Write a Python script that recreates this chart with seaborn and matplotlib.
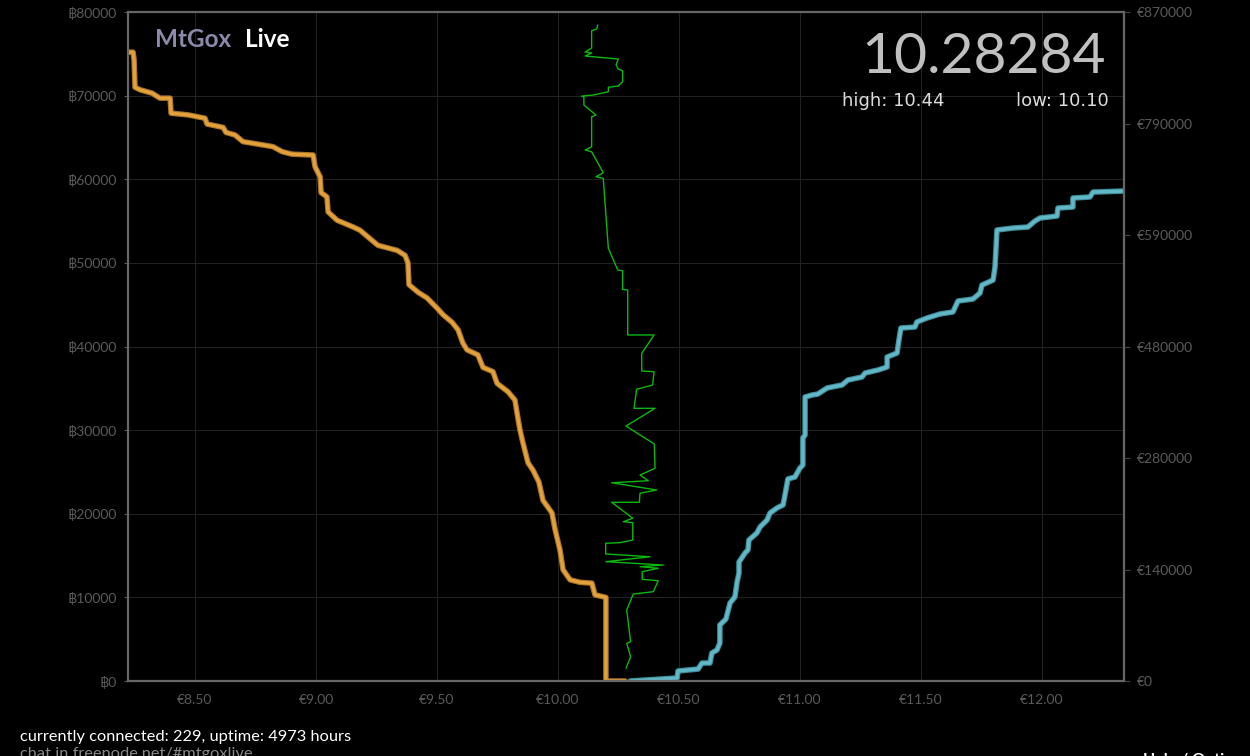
import numpy as np
import pandas as pd
import seaborn as sns
import matplotlib.pyplot as plt
import matplotlib.patheffects as pe

# bid depth (price in EUR, cumulative BTC)
bid_price = [8.223, 8.244, 8.248, 8.252, 8.273, 8.322, 8.355, 8.397, 8.401, 8.471, 8.541, 8.550,
             8.616, 8.628, 8.665, 8.698, 8.781, 8.822, 8.860, 8.901, 8.988, 8.996, 9.017, 9.021,
             9.045, 9.050, 9.087, 9.153, 9.182, 9.231, 9.256, 9.335, 9.368, 9.380, 9.384, 9.421,
             9.459, 9.500, 9.525, 9.562, 9.587, 9.607, 9.624, 9.669, 9.690, 9.731, 9.748, 9.793,
             9.822, 9.831, 9.843, 9.855, 9.876, 9.897, 9.921, 9.938, 9.975, 9.988, 10.008, 10.021,
             10.050, 10.091, 10.140, 10.153, 10.198, 10.198, 10.277]
bid_btc = [75200, 75200, 74300, 71000, 70700, 70300, 69700, 69700, 67900, 67700, 67300, 66600,
           66200, 65600, 65300, 64500, 64100, 63900, 63300, 63000, 62900, 61500, 60300, 58400,
           57900, 56100, 55100, 54300, 53900, 52700, 52100, 51500, 50900, 50000, 47400, 46500,
           45800, 44600, 43800, 42900, 42000, 40400, 39600, 39000, 37500, 37000, 35600, 34600,
           33600, 32000, 30000, 28500, 26100, 25200, 23800, 21600, 20100, 18100, 15700, 13300,
           12100, 11800, 11700, 10300, 10000, 0, 0]

# ask depth
ask_price = [10.298, 10.492, 10.496, 10.579, 10.595, 10.628, 10.636, 10.657, 10.669, 10.669,
             10.694, 10.711, 10.731, 10.740, 10.748, 10.748, 10.773, 10.785, 10.789, 10.822,
             10.835, 10.864, 10.876, 10.905, 10.930, 10.938, 10.950, 10.979, 11.000, 11.012,
             11.012, 11.021, 11.021, 11.050, 11.074, 11.112, 11.174, 11.198, 11.256, 11.269,
             11.322, 11.360, 11.360, 11.401, 11.409, 11.417, 11.475, 11.483, 11.525, 11.579,
             11.632, 11.653, 11.715, 11.744, 11.752, 11.798, 11.806, 11.814, 11.880, 11.942,
             11.971, 11.992, 12.062, 12.066, 12.128, 12.128, 12.198, 12.211, 12.335]
ask_btc = [0, 360, 1200, 1430, 2150, 2150, 3350, 3710, 4540, 6700,
           7410, 9330, 10050, 11840, 12920, 14230, 15310, 15670, 16860, 17700,
           18420, 19250, 20090, 20690, 21050, 22240, 24160, 24390, 25470, 25830,
           29060, 29420, 33960, 34200, 34320, 35040, 35400, 35990, 36350, 36830,
           37190, 37550, 38740, 39220, 40780, 42210, 42330, 42930, 43410, 43890,
           44130, 45440, 45680, 46400, 47350, 47950, 49510, 53930, 54170, 54290,
           55010, 55370, 55600, 56560, 56680, 57760, 57880, 58470, 58590]

# recent trade prices (drawn top = oldest, bottom = newest)
trade_price = [10.164, 10.160, 10.139, 10.139, 10.112, 10.139, 10.112, 10.249, 10.240, 10.249,
               10.267, 10.267, 10.249, 10.208, 10.208, 10.146, 10.098, 10.107, 10.107, 10.157,
               10.139, 10.139, 10.112, 10.139, 10.187, 10.157, 10.187, 10.208, 10.247, 10.267,
               10.267, 10.288, 10.288, 10.397, 10.346, 10.346, 10.397, 10.391, 10.325, 10.314,
               10.401, 10.281, 10.398, 10.401, 10.339, 10.373, 10.222, 10.408, 10.339, 10.336,
               10.222, 10.309, 10.270, 10.309, 10.309, 10.256, 10.197, 10.197, 10.380, 10.198,
               10.435, 10.339, 10.414, 10.348, 10.348, 10.414, 10.394, 10.311, 10.284, 10.300,
               10.284, 10.300, 10.281]
trade_pos = [78440, 77970, 77760, 75690, 75220, 75100, 74740, 74380, 73660, 73180,
             72980, 71660, 71150, 71000, 70470, 70070, 69950, 69800, 68880, 67680,
             67480, 63890, 63500, 63290, 60780, 60300, 60110, 51740, 49150, 49060,
             46840, 46760, 41380, 41380, 39190, 37070, 36990, 35400, 34880, 32610,
             32610, 30490, 28340, 25440, 24630, 23950, 23710, 22840, 22450, 21370,
             21370, 19460, 19050, 18930, 16860, 16540, 16470, 15190, 14860, 14270,
             13870, 13670, 13480, 13070, 12160, 11990, 10680, 10400, 8490, 4700,
             4510, 2910, 1520]

x_ticks = [8.5, 9.0, 9.5, 10.0, 10.5, 11.0, 11.5, 12.0]
btc_ticks = [0, 10000, 20000, 30000, 40000, 50000, 60000, 70000, 80000]
eur_labels = ["€0", "€140000", "€280000", "€480000", "€590000", "€790000", "€870000"]

last_price = "10.28284"
high, low = "10.44", "10.10"

sns.set_style("dark", {"axes.facecolor": "black", "figure.facecolor": "black"})
plt.rcParams['font.family'] = ['Lato', 'DejaVu Sans']

fig = plt.figure(figsize=(12.5, 7.56), dpi=100)
ax = fig.add_axes([0.1024, 0.0992, 0.7968, 0.8849])
ax.set_facecolor("black")

bids = pd.DataFrame({"price": bid_price, "btc": bid_btc})
asks = pd.DataFrame({"price": ask_price, "btc": ask_btc})
trades = pd.DataFrame({"price": trade_price, "pos": trade_pos})

sns.lineplot(data=bids, x="price", y="btc", sort=False, estimator=None, ax=ax,
             color="#e3a13b", linewidth=2.4,
             path_effects=[pe.Stroke(linewidth=4, foreground="#a8742a"), pe.Normal()])
sns.lineplot(data=asks, x="price", y="btc", sort=False, estimator=None, ax=ax,
             color="#62b8c6", linewidth=2.4,
             path_effects=[pe.Stroke(linewidth=4, foreground="#3f8d9a"), pe.Normal()])
sns.lineplot(data=trades, x="price", y="pos", sort=False, estimator=None, ax=ax,
             color="#0cb80c", linewidth=1.0)

ax.set_xlim(8.223, 12.339)
ax.set_ylim(0, 80000)
ax.set_xticks(x_ticks)
ax.set_xticklabels([f"€{v:.2f}" for v in x_ticks])
ax.set_yticks(btc_ticks)
ax.set_yticklabels([f"฿{v}" for v in btc_ticks])
ax.set_xlabel("")
ax.set_ylabel("")
ax.grid(True, color="#222222", linewidth=0.8)
ax.tick_params(colors="#555555", labelcolor="#5a5a5a", labelsize=10, length=3, pad=5)
ax.tick_params(axis="x", length=0, pad=9)
for s in ax.spines.values():
    s.set_color("#666666")
    s.set_linewidth(1.6)
    s.set_visible(True)

ax2 = ax.twinx()
ax2.set_ylim(0, 870000)
ax2.set_yticks(np.linspace(0, 870000, len(eur_labels)))
ax2.set_yticklabels(eur_labels)
ax2.tick_params(colors="#444444", labelcolor="#5a5a5a", labelsize=10, length=4, pad=5)
ax2.grid(False)
for s in ax2.spines.values():
    s.set_visible(False)

fig.text(155 / 1250, 0.938, "MtGox", color="#8a8aaa", fontsize=17.5, fontweight="bold", va="baseline")
fig.text(245 / 1250, 0.938, "Live", color="white", fontsize=17.5, fontweight="bold", va="baseline")
fig.text(1106 / 1250, 0.903, last_price, color="#c0c0c0", fontsize=41,
         ha="right", va="baseline")
fig.text(842 / 1250, 0.860, f"high: {high}", color="#dddddd", fontsize=13,
         family="DejaVu Sans", va="baseline")
fig.text(1109 / 1250, 0.860, f"low: {low}", color="#dddddd", fontsize=13,
         family="DejaVu Sans", ha="right", va="baseline")

fig.text(20 / 1250, 0.0198, "currently connected: 229, uptime: 4973 hours", color="white",
         fontsize=11.8, va="baseline")
fig.text(20 / 1250, -0.003, "chat in freenode.net/#mtgoxlive", color="#888888",
         fontsize=11.8, va="baseline")
fig.text(1143 / 1250, -0.010, "Help / Options", color="white", fontsize=11.5,
         fontweight="bold", va="baseline")

fig.savefig("out.png", dpi=100, facecolor="black")
